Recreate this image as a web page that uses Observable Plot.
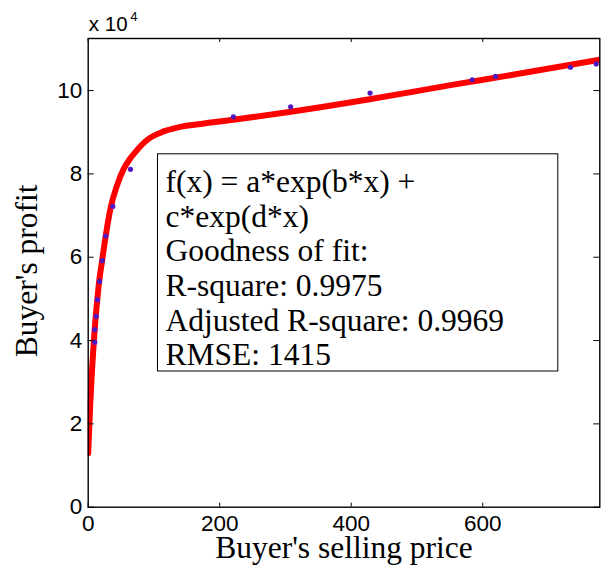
<!DOCTYPE html>
<html>
<head>
<meta charset="utf-8">
<script src="https://cdn.jsdelivr.net/npm/d3@7"></script>
<script src="https://cdn.jsdelivr.net/npm/@observablehq/plot@0.6"></script>
<style>
  html, body { margin: 0; padding: 0; background: #fff; }
</style>
</head>
<body>
<script>
// Observed samples: buyer's selling price vs. buyer's profit
const sellPrice = [10.0, 10.0, 12.2, 14.1, 17.2, 21.3, 26.7, 37.4, 64.3, 220.8, 307.9, 428.6, 584, 619.4, 733.4, 772.5];
const profit = [39600, 42600, 45800, 49800, 54200, 59200, 65100, 72200, 81100, 93700, 96100, 99400, 102600, 103400, 105600, 106400];

// Fitted two-term exponential curve, sampled along the price axis
const fitPrice = [0, 3, 6, 9, 11, 13.5, 16.5, 21, 26, 34, 44, 54, 63, 72, 90, 115, 140, 171, 221, 308, 428, 551, 650, 778];
const fitProfit = [13000, 24500, 33500, 40800, 45000, 49300, 54000, 59000, 64500, 71800, 77300, 81200, 83500, 85300, 88200, 90200, 91300, 92000, 93000, 94900, 97900, 101300, 103900, 107400];

// Axis ticks and labels
const xTicks = [0, 200, 400, 600];
const yTicks = [0, 20000, 40000, 60000, 80000, 100000];
const yTickLabels = ["0", "2", "4", "6", "8", "10"];
const yScaleBase = "x 10";
const yScaleExp = "4";
const xTitle = "Buyer's selling price";
const yTitle = "Buyer's profit";

// Fit summary
const fitLines = [
  "f(x) = a*exp(b*x) +",
  "c*exp(d*x)",
  "Goodness of fit:",
  "R-square: 0.9975",
  "Adjusted R-square: 0.9969",
  "RMSE: 1415"
];

const points = sellPrice.map((x, i) => ({x, y: profit[i]}));
const curve = fitPrice.map((x, i) => ({x, y: fitProfit[i]}));

const W = 602, H = 567;
const mLeft = 87.7, mRight = 2.7, mTop = 38, mBottom = 60.3;
const innerW = W - mLeft - mRight;
const innerH = H - mTop - mBottom;

const sans = "Liberation Sans, Arial, sans-serif";
const serif = "Liberation Serif, Times New Roman, serif";

const chart = Plot.plot({
  width: W,
  height: H,
  marginLeft: mLeft,
  marginRight: mRight,
  marginTop: mTop,
  marginBottom: mBottom,
  style: {background: "#fff", overflow: "visible"},
  x: {domain: [0, 778]},
  y: {domain: [0, 112500]},
  marks: [
    // fitted curve
    Plot.line(curve, {x: "x", y: "y", stroke: "#ff0000", strokeWidth: 6, curve: "monotone-x", clip: true}),
    // observations
    Plot.dot(points, {x: "x", y: "y", r: 2.6, fill: "#5018c0", stroke: null}),
    // inward ticks on all four sides
    Plot.tickX(xTicks, {x: d => d, stroke: "#000", insetTop: innerH - 4}),
    Plot.tickX(xTicks, {x: d => d, stroke: "#000", insetBottom: innerH - 4}),
    Plot.tickY(yTicks, {y: d => d, stroke: "#000", insetRight: innerW - 6}),
    Plot.tickY(yTicks, {y: d => d, stroke: "#000", insetLeft: innerW - 6}),
    // tick labels
    Plot.axisX(xTicks, {tickSize: 0, tickPadding: 8, fontSize: 22.5, fontFamily: sans, fill: "#000", label: null}),
    Plot.axisY(yTicks, {tickSize: 0, tickPadding: 6, fontSize: 22.5, fontFamily: sans, fill: "#000", label: null,
      tickFormat: d => yTickLabels[yTicks.indexOf(d)]}),
    // axes box
    Plot.frame({stroke: "#000", strokeWidth: 1.4}),
    // exponent marker above the y axis
    Plot.text([yScaleBase], {frameAnchor: "top-left", dx: 0.6, dy: -7.3, lineAnchor: "bottom", textAnchor: "start",
      fontSize: 20.5, fontFamily: sans, fill: "#000"}),
    Plot.text([yScaleExp], {frameAnchor: "top-left", dx: 42.3, dy: -17.3, lineAnchor: "bottom", textAnchor: "start",
      fontSize: 12.5, fontFamily: sans, fill: "#000"}),
    // axis titles
    Plot.text([xTitle], {frameAnchor: "bottom", dy: 51, lineAnchor: "bottom", textAnchor: "middle",
      fontSize: 31.5, fontFamily: serif, fill: "#000"}),
    Plot.text([yTitle], {frameAnchor: "left", dx: -51.2, dy: -2, rotate: -90, lineAnchor: "bottom", textAnchor: "middle",
      fontSize: 31.5, fontFamily: serif, fill: "#000"}),
    // fit summary box
    Plot.frame({fill: "#fff", stroke: "#000", strokeWidth: 1,
      insetLeft: 69.3, insetTop: 115.3, insetRight: 42, insetBottom: 136.2}),
    Plot.text([fitLines.join("\n")], {frameAnchor: "top-left", dx: 77.3, dy: 128.9, lineAnchor: "top", textAnchor: "start",
      lineHeight: 1.1, fontSize: 31.5, fontFamily: serif, fill: "#000"})
  ]
});

document.body.append(chart);
</script>
</body>
</html>
